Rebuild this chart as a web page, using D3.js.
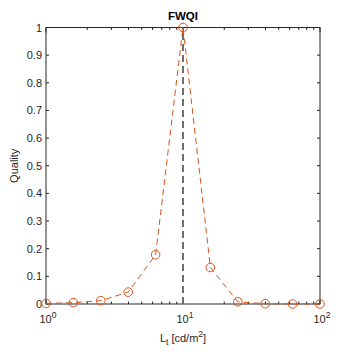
<!DOCTYPE html>
<html>
<head>
<meta charset="utf-8">
<script src="https://cdn.jsdelivr.net/npm/d3@7"></script>
<style>
  body { margin: 0; background: #fff; }
  svg text { font-family: "Liberation Sans", Arial, sans-serif; }
</style>
</head>
<body>
<svg id="chart" width="354" height="354"></svg>
<script>
// luminance levels (cd/m^2) and quality values
const luminance = [1, 1.585, 2.512, 3.981, 6.31, 10, 15.85, 25.12, 39.81, 63.1, 100];
const quality = [0.002, 0.005, 0.012, 0.043, 0.178, 1.0, 0.132, 0.008, 0.001, 0.0, 0.0];
const refLine = 10;
const yTicks = [0, 0.1, 0.2, 0.3, 0.4, 0.5, 0.6, 0.7, 0.8, 0.9, 1];
const xDecades = [1, 10, 100];

const svg = d3.select('#chart');
const padLeft = 46, padRight = 320, padTop = 27.5, padBottom = 304;
const axisColor = '#262626';
const orange = '#D95319';

const xScale = d3.scaleLog()
  .domain([1, 100])
  .range([padLeft, padRight]);

const yScale = d3.scaleLinear()
  .domain([0, 1])
  .range([padBottom, padTop]);

// minor ticks for a log axis
const minorTicks = [];
for (const dec of [1, 10]) {
  for (let k = 2; k <= 9; k++) minorTicks.push(dec * k);
}

const g = svg.append('g');

// box
g.append('rect')
  .attr('x', padLeft).attr('y', padTop)
  .attr('width', padRight - padLeft).attr('height', padBottom - padTop)
  .attr('fill', 'none').attr('stroke', axisColor).attr('stroke-width', 1);

// y ticks left & right (inside)
g.selectAll('.ytl').data(yTicks).enter().append('line')
  .attr('x1', padLeft).attr('x2', padLeft + 3)
  .attr('y1', d => yScale(d)).attr('y2', d => yScale(d))
  .attr('stroke', axisColor);
g.selectAll('.ytr').data(yTicks).enter().append('line')
  .attr('x1', padRight).attr('x2', padRight - 3)
  .attr('y1', d => yScale(d)).attr('y2', d => yScale(d))
  .attr('stroke', axisColor);

// x major + minor ticks, bottom & top
const xTickAll = xDecades.map(d => ({ v: d, len: 5 })).concat(minorTicks.map(d => ({ v: d, len: 2.5 })));
g.selectAll('.xtb').data(xTickAll).enter().append('line')
  .attr('x1', d => xScale(d.v)).attr('x2', d => xScale(d.v))
  .attr('y1', padBottom).attr('y2', d => padBottom - d.len)
  .attr('stroke', axisColor);
g.selectAll('.xtt').data(xTickAll).enter().append('line')
  .attr('x1', d => xScale(d.v)).attr('x2', d => xScale(d.v))
  .attr('y1', padTop).attr('y2', d => padTop + d.len)
  .attr('stroke', axisColor);

// y tick labels
g.selectAll('.ylab').data(yTicks).enter().append('text')
  .attr('x', padLeft - 4)
  .attr('y', d => yScale(d) + 4)
  .attr('text-anchor', 'end')
  .attr('font-size', 11)
  .attr('fill', axisColor)
  .text(d => d3.format('~g')(d));

// x tick labels 10^n
const xl = g.selectAll('.xlab').data(xDecades).enter().append('text')
  .attr('x', d => xScale(d) + 2)
  .attr('y', padBottom + 19)
  .attr('text-anchor', 'middle')
  .attr('font-size', 11)
  .attr('fill', axisColor);
xl.append('tspan').text('10');
xl.append('tspan').attr('dy', -5).attr('font-size', 8.5).text(d => Math.round(Math.log10(d)));

// axis labels
const xt = g.append('text')
  .attr('x', (padLeft + padRight) / 2)
  .attr('y', 342)
  .attr('text-anchor', 'middle')
  .attr('font-size', 11)
  .attr('fill', axisColor);
xt.append('tspan').text('L');
xt.append('tspan').attr('dy', 3).attr('font-size', 8.5).text('t');
xt.append('tspan').attr('dy', -3).text(' [cd/m');
xt.append('tspan').attr('dy', -5).attr('font-size', 8.5).text('2');
xt.append('tspan').attr('dy', 5).text(']');

g.append('text')
  .attr('transform', `translate(18,${(padTop + padBottom) / 2}) rotate(-90)`)
  .attr('text-anchor', 'middle')
  .attr('font-size', 11)
  .attr('fill', axisColor)
  .text('Quality');

g.append('text')
  .attr('x', (padLeft + padRight) / 2)
  .attr('y', 20)
  .attr('text-anchor', 'middle')
  .attr('font-size', 11.5)
  .attr('font-weight', 'bold')
  .attr('fill', '#000')
  .text('FWQI');

// reference line
g.append('line')
  .attr('x1', xScale(refLine)).attr('x2', xScale(refLine))
  .attr('y1', yScale(0)).attr('y2', yScale(1))
  .attr('stroke', '#6e6e6e')
  .attr('stroke-width', 2)
  .attr('stroke-dasharray', '7,4');

// data line
const pts = luminance.map((l, i) => ({ l, q: quality[i] }));
const lineFunction = d3.line()
  .x(d => xScale(d.l))
  .y(d => yScale(d.q));

g.append('path')
  .attr('d', lineFunction(pts))
  .attr('fill', 'none')
  .attr('stroke', orange)
  .attr('stroke-width', 1)
  .attr('stroke-dasharray', '6,4');

g.selectAll('circle').data(pts).enter().append('circle')
  .attr('cx', d => xScale(d.l))
  .attr('cy', d => yScale(d.q))
  .attr('r', 4.3)
  .attr('fill', 'none')
  .attr('stroke', orange)
  .attr('stroke-width', 1);
</script>
</body>
</html>
